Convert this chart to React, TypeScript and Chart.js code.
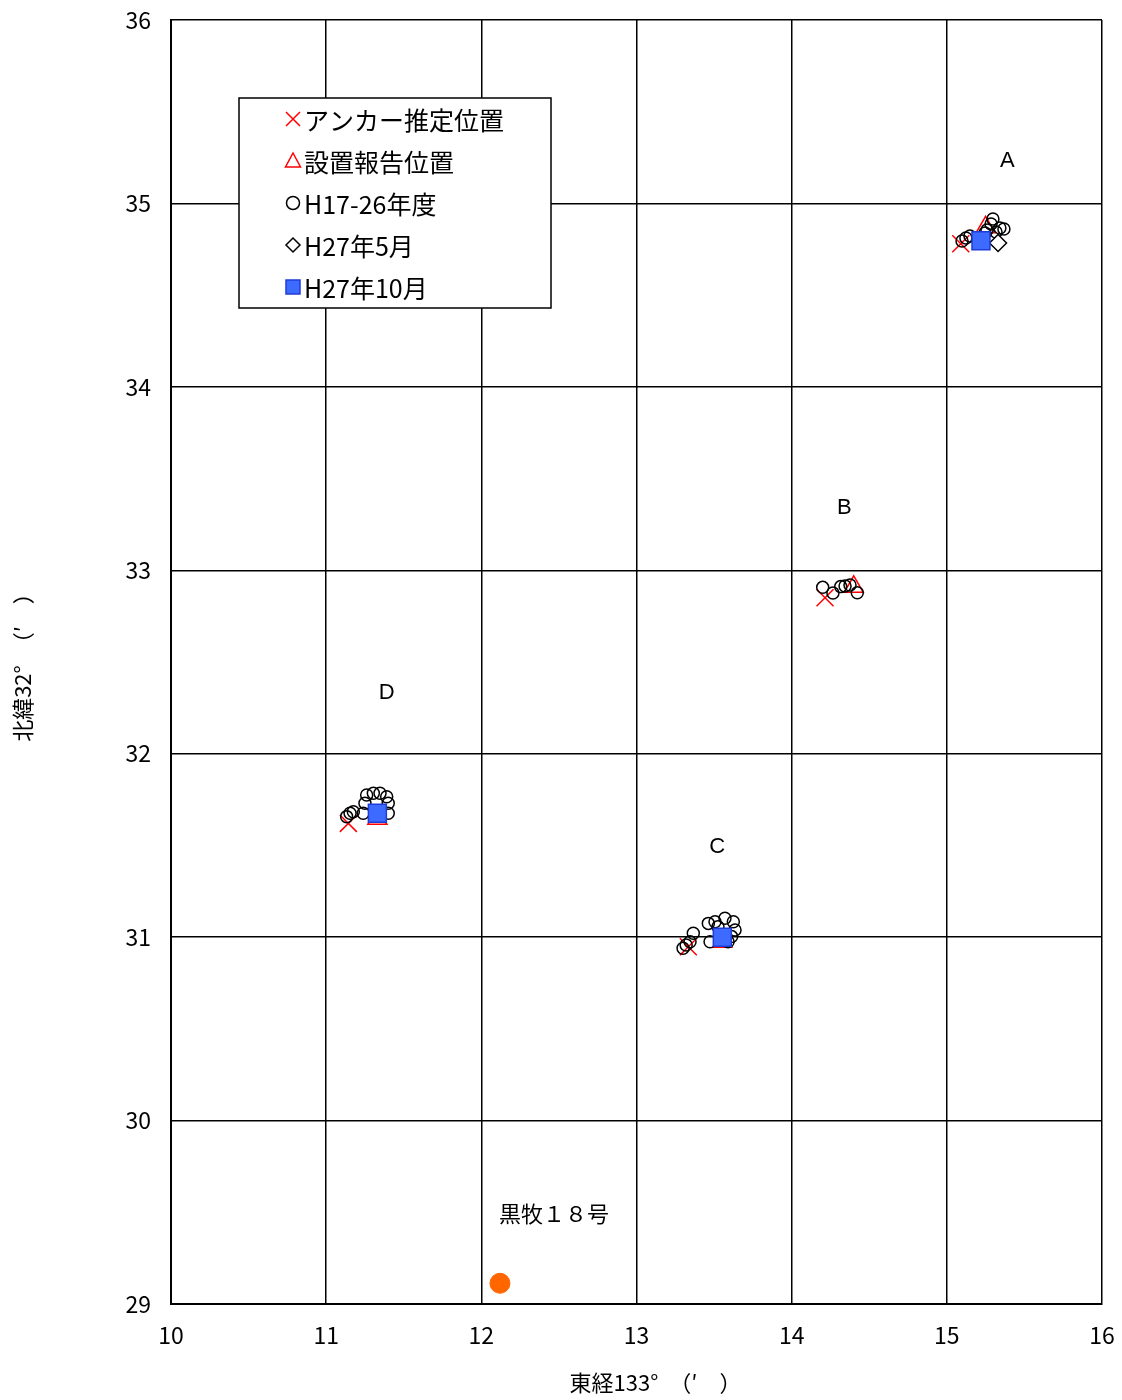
import React, { useEffect, useRef } from 'react';
import { Chart, registerables } from 'chart.js';

Chart.register(...registerables);

const FONT_JP = '"Noto Sans CJK JP", "Noto Sans", sans-serif';
const FONT_LAT = '"Liberation Sans", Arial, sans-serif';

// Axis ticks
const xTicks = [10, 11, 12, 13, 14, 15, 16];
const yTicks = [29, 30, 31, 32, 33, 34, 35, 36];

// Axis titles
const xTitle = '東経133°　（′　）';
const yTitle = '北緯32°　（′　）';

// Series labels
const seriesNames = ['アンカー推定位置', '設置報告位置', 'H17-26年度', 'H27年5月', 'H27年10月'];

// アンカー推定位置 (A, B, C, D)
const anchorX = [15.09, 14.215, 13.334, 11.143];
const anchorY = [34.78, 32.85, 30.948, 31.62];

// 設置報告位置
const reportX = [15.25, 14.4, 13.553, 11.33];
const reportY = [34.87, 32.91, 30.975, 31.645];

// H17-26年度
const pastX = [
  15.098, 15.123, 15.149, 15.246, 15.259, 15.285, 15.297, 15.317, 15.342, 15.368,
  14.2, 14.266, 14.316, 14.344, 14.376, 14.423,
  13.3, 13.32, 13.345, 13.366, 13.463, 13.474, 13.506, 13.525, 13.57, 13.624, 13.635, 13.613, 13.59,
  11.132, 11.154, 11.175, 11.239, 11.25, 11.261, 11.304, 11.347, 11.39, 11.4, 11.4,
];
const pastY = [
  34.795, 34.812, 34.822, 34.839, 34.855, 34.888, 34.915, 34.844, 34.866, 34.861,
  32.907, 32.876, 32.911, 32.914, 32.92, 32.878,
  30.939, 30.957, 30.975, 31.021, 31.075, 30.975, 31.084, 31.057, 31.103, 31.084, 31.039, 31.003, 30.975,
  31.657, 31.675, 31.684, 31.675, 31.73, 31.775, 31.784, 31.784, 31.765, 31.73, 31.675,
];

// H27年5月
const mayX = [15.33];
const mayY = [34.784];

// H27年10月
const octX = [15.22, 13.553, 11.33];
const octY = [34.797, 30.999, 31.675];

// 黒牧18号
const kuromakiX = [12.12];
const kuromakiY = [29.113];

// Text annotations on the plot
const noteText = ['A', 'B', 'C', 'D', '黒牧１８号'];
const noteX = [15.39, 14.34, 13.52, 11.39, 12.468];
const noteY = [35.23, 33.34, 31.49, 32.33, 29.491];

const pts = (xs: number[], ys: number[]) => xs.map((x, i) => ({ x, y: ys[i] }));

const legendPlugin = {
  id: 'boxLegend',
  afterDraw(chart: any) {
    const { ctx, chartArea } = chart;
    const left = chartArea.left + 68;
    const top = chartArea.top + 78;
    const w = 312;
    const h = 210;
    ctx.save();
    ctx.fillStyle = '#ffffff';
    ctx.fillRect(left, top, w, h);
    ctx.strokeStyle = '#000';
    ctx.lineWidth = 1.5;
    ctx.strokeRect(left, top, w, h);
    const datasets = chart.data.datasets.slice(0, 5);
    datasets.forEach((ds: any, i: number) => {
      const cy = top + 21 + i * 42;
      const cx = left + 54;
      ctx.lineWidth = 1.5;
      ctx.strokeStyle = ds.borderColor;
      ctx.fillStyle = ds.backgroundColor;
      ctx.beginPath();
      if (ds.pointStyle === 'crossRot') {
        ctx.moveTo(cx - 7, cy - 7);
        ctx.lineTo(cx + 7, cy + 7);
        ctx.moveTo(cx + 7, cy - 7);
        ctx.lineTo(cx - 7, cy + 7);
        ctx.stroke();
      } else if (ds.pointStyle === 'triangle') {
        ctx.moveTo(cx, cy - 8);
        ctx.lineTo(cx + 7.5, cy + 6);
        ctx.lineTo(cx - 7.5, cy + 6);
        ctx.closePath();
        ctx.stroke();
      } else if (ds.pointStyle === 'circle') {
        ctx.arc(cx, cy, 6.5, 0, Math.PI * 2);
        ctx.stroke();
      } else if (ds.pointStyle === 'rectRot') {
        ctx.moveTo(cx, cy - 7);
        ctx.lineTo(cx + 7, cy);
        ctx.lineTo(cx, cy + 7);
        ctx.lineTo(cx - 7, cy);
        ctx.closePath();
        ctx.fill();
        ctx.stroke();
      } else {
        ctx.rect(cx - 7, cy - 7, 14, 14);
        ctx.fill();
        ctx.stroke();
      }
      ctx.fillStyle = '#000';
      ctx.font = `25px ${FONT_JP}`;
      ctx.textAlign = 'left';
      ctx.textBaseline = 'middle';
      ctx.fillText(ds.label, left + 65, cy + 1);
    });
    ctx.restore();
  },
};

const notePlugin = {
  id: 'notes',
  afterDatasetsDraw(chart: any) {
    const { ctx, scales, chartArea } = chart;
    ctx.save();
    ctx.fillStyle = '#000';
    ctx.textAlign = 'center';
    ctx.textBaseline = 'middle';
    noteText.forEach((t, i) => {
      const isLatin = /^[A-Z]$/.test(t);
      ctx.font = isLatin ? `22px ${FONT_LAT}` : `22px ${FONT_JP}`;
      ctx.fillText(t, scales.x.getPixelForValue(noteX[i]), scales.y.getPixelForValue(noteY[i]));
    });
    // x-axis title
    ctx.font = `22px ${FONT_JP}`;
    ctx.fillText(xTitle, (chartArea.left + chartArea.right) / 2 + 19, 1383);
    ctx.restore();
  },
};

export default function App() {
  const ref = useRef<HTMLCanvasElement | null>(null);

  useEffect(() => {
    if (!ref.current) return;
    Chart.defaults.font.family = FONT_JP;
    Chart.defaults.color = '#000';
    const chart = new Chart(ref.current, {
      type: 'scatter',
      data: {
        datasets: [
          {
            label: seriesNames[0],
            data: pts(anchorX, anchorY),
            pointStyle: 'crossRot',
            pointRadius: 12,
            borderColor: '#ff0000',
            backgroundColor: 'transparent',
            borderWidth: 1.5,
            order: 6,
          },
          {
            label: seriesNames[1],
            data: pts(reportX, reportY),
            pointStyle: 'triangle',
            pointRadius: 11,
            borderColor: '#ff0000',
            backgroundColor: 'transparent',
            borderWidth: 1.5,
            order: 5,
          },
          {
            label: seriesNames[2],
            data: pts(pastX, pastY),
            pointStyle: 'circle',
            pointRadius: 6,
            borderColor: '#000000',
            backgroundColor: 'transparent',
            borderWidth: 1.5,
            order: 4,
          },
          {
            label: seriesNames[3],
            data: pts(mayX, mayY),
            pointStyle: 'rectRot',
            pointRadius: 8.5,
            borderColor: '#000000',
            backgroundColor: '#ffffff',
            borderWidth: 1.5,
            order: 3,
          },
          {
            label: seriesNames[4],
            data: pts(octX, octY),
            pointStyle: 'rect',
            pointRadius: 12.7,
            borderColor: '#1e3cdb',
            backgroundColor: '#3d6bff',
            borderWidth: 1.5,
            order: 2,
          },
          {
            label: '黒牧１８号',
            data: pts(kuromakiX, kuromakiY),
            pointStyle: 'circle',
            pointRadius: 10,
            borderColor: '#ff6600',
            backgroundColor: '#ff6600',
            borderWidth: 1,
            order: 1,
          },
        ],
      },
      options: {
        responsive: false,
        animation: false,
        events: [],
        layout: { padding: { top: 20, right: 20, left: 0, bottom: 0 } },
        plugins: {
          legend: { display: false },
          tooltip: { enabled: false },
        },
        scales: {
          x: {
            type: 'linear',
            min: 10,
            max: 16,
            afterBuildTicks: (s: any) => {
              s.ticks = xTicks.map((v) => ({ value: v }));
            },
            afterFit: (s: any) => {
              s.height = 96;
              s.paddingLeft = 0;
              s.paddingRight = 0;
            },
            grid: { color: '#000', lineWidth: 1.5, drawTicks: false },
            border: { color: '#000', width: 2 },
            ticks: { padding: 17, font: { size: 23 }, color: '#000', maxRotation: 0 },
            title: { display: false },
          },
          y: {
            type: 'linear',
            min: 29,
            max: 36,
            afterBuildTicks: (s: any) => {
              s.ticks = yTicks.map((v) => ({ value: v }));
            },
            afterFit: (s: any) => {
              s.width = 171;
              s.paddingTop = 0;
              s.paddingBottom = 0;
            },
            grid: { color: '#000', lineWidth: 1.5, drawTicks: false },
            border: { color: '#000', width: 2 },
            ticks: { padding: 20, font: { size: 23 }, color: '#000' },
            title: {
              display: true,
              text: yTitle,
              font: { size: 22 },
              color: '#000',
              padding: { top: 9, bottom: 0 },
            },
          },
        },
      },
      plugins: [notePlugin, legendPlugin],
    } as any);
    return () => chart.destroy();
  }, []);

  return (
    <div style={{ position: 'absolute', left: 0, top: 0, width: 1122, height: 1400, background: '#fff' }}>
      <canvas ref={ref} width={1122} height={1400} />
    </div>
  );
}
